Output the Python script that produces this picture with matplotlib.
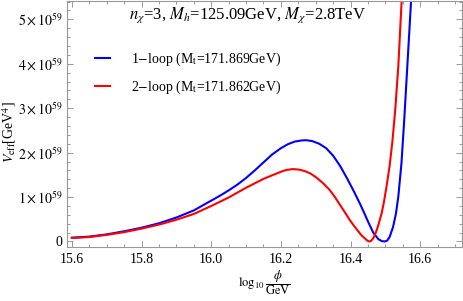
import matplotlib
matplotlib.use("Agg")
import matplotlib.pyplot as plt
from matplotlib.ticker import MultipleLocator, FuncFormatter

plt.rcParams['font.family'] = ['Liberation Serif', 'DejaVu Serif']
plt.rcParams['mathtext.fontset'] = 'stix'

# values: log10(phi/GeV) and V_eff in units of 1e59 GeV^4
x_1loop = [15.6, 15.65, 15.7, 15.75, 15.8, 15.85, 15.9, 15.95, 16.0, 16.025, 16.05,
           16.075, 16.1, 16.125, 16.15, 16.175, 16.2, 16.22, 16.24, 16.26, 16.273, 16.29,
           16.31, 16.33, 16.35, 16.37, 16.39, 16.41, 16.43, 16.45, 16.465, 16.48,
           16.49, 16.498, 16.505, 16.512, 16.522, 16.53, 16.537, 16.546, 16.554,
           16.563, 16.573, 16.58]
v_1loop = [0.085, 0.11, 0.16, 0.23, 0.31, 0.41, 0.54, 0.70, 0.92, 1.03, 1.15,
           1.28, 1.43, 1.60, 1.78, 1.96, 2.10, 2.19, 2.25, 2.275, 2.28, 2.26,
           2.20, 2.10, 1.93, 1.70, 1.42, 1.12, 0.80, 0.45, 0.20, 0.05,
           0.008, 0.0, 0.02, 0.10, 0.33, 0.62, 1.01, 1.76, 2.74,
           3.97, 5.33, 6.4]

x_2loop = [15.6, 15.65, 15.7, 15.75, 15.8, 15.85, 15.9, 15.95, 16.0, 16.05,
           16.1, 16.15, 16.2, 16.215, 16.235, 16.255, 16.27, 16.285, 16.3, 16.32,
           16.34, 16.355, 16.37, 16.385, 16.398, 16.41, 16.42, 16.43, 16.441, 16.448,
           16.453, 16.458, 16.464, 16.47, 16.475, 16.48, 16.489, 16.496, 16.503,
           16.512, 16.52, 16.528, 16.537, 16.546, 16.552]
v_2loop = [0.08, 0.10, 0.15, 0.21, 0.29, 0.38, 0.49, 0.62, 0.80, 0.99,
           1.21, 1.41, 1.57, 1.61, 1.63, 1.615, 1.58, 1.53, 1.45, 1.32,
           1.16, 1.00, 0.82, 0.64, 0.48, 0.35, 0.25, 0.15, 0.07, 0.02,
           0.0, 0.01, 0.06, 0.15, 0.26, 0.38, 0.63, 0.90, 1.23,
           1.70, 2.25, 2.95, 3.95, 5.33, 6.3]

labels = [r'1$-$loop (M$_{\rm t}$=171.869GeV)', r'2$-$loop (M$_{\rm t}$=171.862GeV)']
title = r'$n_\chi$=3, $M_h$=125.09GeV, $M_\chi$=2.8TeV'

fig = plt.figure(figsize=(4.63, 3.01), dpi=100)
ax = fig.add_axes([0.1447, 0.1794, 0.8533, 0.8176])

ax.plot(x_1loop, v_1loop, color='#0000ff', lw=1.5, label=labels[0])
ax.plot(x_2loop, v_2loop, color='#ff0000', lw=1.5, label=labels[1])

ax.set_xlim(15.586, 16.72)
ax.set_ylim(-0.124, 5.416)

ax.xaxis.set_major_locator(MultipleLocator(0.2))
ax.xaxis.set_minor_locator(MultipleLocator(0.05))
ax.yaxis.set_major_locator(MultipleLocator(1))
ax.yaxis.set_minor_locator(MultipleLocator(0.2))
ax.xaxis.set_major_formatter(FuncFormatter(lambda v, p: '%.1f' % v))
ax.yaxis.set_major_formatter(FuncFormatter(
    lambda v, p: '0' if abs(v) < 1e-9 else r'$%d\times10^{59}$' % round(v)))

for s in ax.spines.values():
    s.set_color('#999999')
    s.set_linewidth(0.8)
ax.tick_params(which='both', direction='in', top=True, right=True, color='#999999',
               labelsize=10, width=0.7)
ax.tick_params(which='major', length=4)
ax.tick_params(which='minor', length=2)
ax.tick_params(axis='y', pad=3)
ax.tick_params(axis='x', pad=4)

# y label placed by hand so it sits at the left edge like the original
fig.text(9 / 463, 1 - 132 / 301, r'$V_{\rm eff}$[GeV$^4$]', rotation=90,
         ha='center', va='center', fontsize=10)
ax.set_xlabel(r'$\log_{10}\dfrac{\phi}{\rm GeV}$', fontsize=9)
ax.xaxis.set_label_coords(0.5, -0.085)

ax.text(0.457, 0.943, title, transform=ax.transAxes, ha='center', va='center', fontsize=12)

ax.legend(loc='center left', bbox_to_anchor=(0.039, 0.705), frameon=False, fontsize=10,
          handlelength=1.1, handletextpad=1.5, labelspacing=0.75)

fig.savefig('out.png', dpi=100)
